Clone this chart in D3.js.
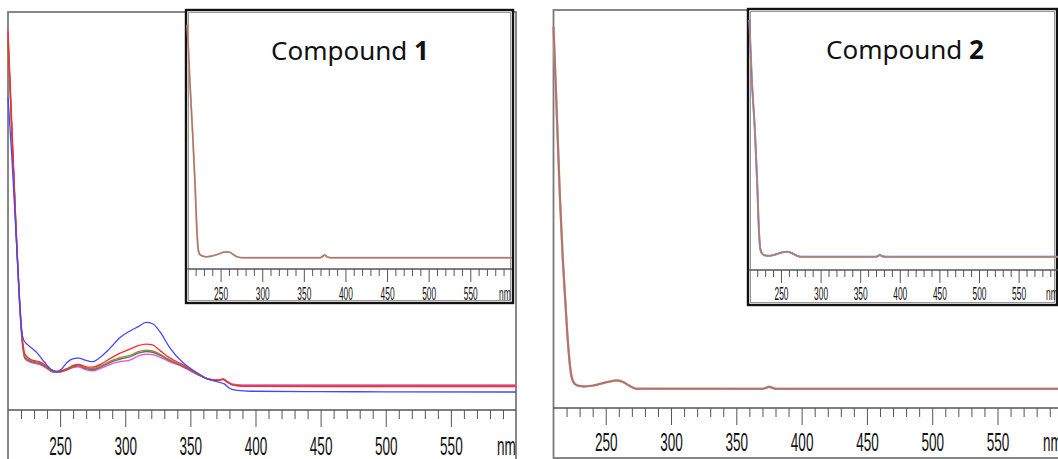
<!DOCTYPE html>
<html>
<head>
<meta charset="utf-8">
<script src="https://cdn.jsdelivr.net/npm/d3@7"></script>
<style>
  body { margin: 0; background: #fff; }
  svg { display: block; }
</style>
</head>
<body>
<div id="chart"></div>
<script>
// UV-vis spectra, [wavelength nm, absorbance]

// compound 1, main plot (zoomed)
const c1Blue = [[210,1.60],[213,1.28],[216,0.90],[219,0.52],[220.5,0.37],[222,0.32],[225,0.295],[228,0.278],[232,0.254],[238,0.202],[243.5,0.162],[247,0.154],[251,0.165],[255,0.198],[259,0.218],[264,0.224],[270,0.212],[275,0.205],[282,0.235],[288,0.274],[296,0.333],[304,0.368],[310,0.39],[316,0.412],[321,0.405],[327,0.359],[334,0.281],[344,0.202],[351,0.165],[357,0.138],[363,0.114],[368,0.104],[372,0.097],[376,0.088],[380,0.065],[386,0.053],[396,0.049],[450,0.047],[500,0.046],[600,0.045]];
const c1Red = [[210,1.95],[213,1.45],[216,0.95],[219,0.52],[221,0.33],[223,0.245],[228,0.215],[234,0.205],[240,0.18],[244,0.16],[248,0.153],[255,0.168],[260,0.185],[264,0.19],[270,0.178],[275,0.176],[282,0.195],[290,0.228],[296,0.25],[304,0.272],[310,0.29],[316,0.298],[321,0.293],[327,0.262],[334,0.225],[344,0.19],[351,0.16],[357,0.135],[363,0.115],[368,0.108],[372,0.107],[375,0.11],[378,0.098],[382,0.082],[390,0.075],[450,0.074],[600,0.074]];
const c1Olive = [[210,1.92],[213,1.42],[216,0.93],[219,0.51],[221,0.32],[223,0.232],[228,0.21],[234,0.2],[240,0.176],[244,0.156],[248,0.151],[255,0.165],[260,0.181],[264,0.186],[270,0.172],[275,0.168],[282,0.186],[290,0.212],[296,0.226],[304,0.24],[310,0.258],[316,0.266],[321,0.262],[327,0.244],[334,0.215],[344,0.185],[351,0.157],[357,0.134],[363,0.115],[368,0.108],[372,0.108],[375,0.113],[378,0.101],[382,0.085],[390,0.079],[600,0.079]];
const c1Green = [[210,1.90],[213,1.40],[216,0.92],[219,0.50],[221,0.31],[223,0.225],[228,0.205],[234,0.195],[240,0.172],[244,0.153],[248,0.15],[255,0.162],[260,0.178],[264,0.183],[270,0.168],[275,0.163],[282,0.18],[290,0.205],[296,0.218],[304,0.232],[310,0.25],[316,0.259],[321,0.255],[327,0.238],[334,0.21],[344,0.182],[351,0.155],[357,0.133],[363,0.115],[368,0.108],[372,0.108],[375,0.112],[378,0.1],[382,0.084],[390,0.077],[600,0.077]];
const c1Magenta = [[210,1.93],[213,1.42],[216,0.93],[219,0.49],[221,0.30],[223,0.22],[228,0.2],[234,0.19],[240,0.168],[244,0.15],[248,0.148],[255,0.16],[260,0.174],[264,0.178],[270,0.162],[275,0.157],[282,0.172],[290,0.195],[296,0.205],[304,0.215],[310,0.235],[316,0.245],[321,0.242],[327,0.228],[334,0.205],[344,0.178],[351,0.152],[357,0.132],[363,0.115],[368,0.109],[372,0.11],[375,0.114],[378,0.103],[382,0.088],[390,0.082],[600,0.082]];

// compound 1, inset (full range)
const c1Inset = [[210,9.5],[213,7.3],[216.4,5.2],[219,3.4],[221.7,1.23],[223,0.6],[225,0.38],[230,0.3],[234,0.29],[240,0.32],[248,0.4],[255,0.47],[260,0.47],[265,0.38],[270,0.28],[275,0.25],[370,0.25],[373,0.31],[375,0.36],[378,0.28],[382,0.25],[600,0.25]];

// compound 2, main plot and inset
const c2Main = [[210,1.963],[212,1.6],[215,1.05],[217,0.75],[219,0.52],[221,0.3],[222.5,0.18],[224,0.11],[226.6,0.075],[230,0.066],[234,0.064],[240,0.068],[246,0.078],[252,0.088],[258,0.095],[263,0.088],[268,0.068],[273,0.052],[370,0.051],[373,0.057],[375,0.062],[378,0.055],[381,0.051],[600,0.051]];
const c2Inset = [[210,9.65],[213,7.4],[217.2,5.2],[220,3.2],[222.3,1.26],[224,0.62],[226,0.45],[230,0.37],[236,0.36],[244,0.42],[252,0.5],[258,0.52],[264,0.46],[270,0.36],[275,0.32],[370,0.32],[373,0.36],[375,0.39],[378,0.34],[382,0.32],[600,0.32]];

const xDomain = [210, 600];
const majorTicks = [250, 300, 350, 400, 450, 500, 550];
const minorTicks = d3.range(220, 600, 10).filter(v => v % 50 !== 0);
const titles = ["1", "2"];

const W = 1058, H = 459;

const svg = d3.select("#chart").append("svg")
  .attr("width", W)
  .attr("height", H);

const defs = svg.append("defs");
defs.append("clipPath").attr("id", "clipL")
  .append("rect").attr("x", 0).attr("y", 0).attr("width", 519).attr("height", H);
defs.append("clipPath").attr("id", "clipR")
  .append("rect").attr("x", 521).attr("y", 0).attr("width", W - 521).attr("height", H);

function drawPanel(p) {
  const g = svg.append("g").attr("clip-path", `url(#${p.clip})`);

  const x = d3.scaleLinear().domain(xDomain).range([p.left, p.right]);
  const y = d3.scaleLinear().domain(p.yDomain).range([p.axisY, p.top]);

  // frame
  if (p.inset) {
    g.append("rect")
      .attr("x", p.box[0]).attr("y", p.box[1])
      .attr("width", p.box[2]).attr("height", p.box[3])
      .attr("fill", "#fff")
      .attr("stroke", "#111")
      .attr("stroke-width", 2.4);
    g.append("rect")
      .attr("x", p.box[0] + 2.5).attr("y", p.box[1] + 2.5)
      .attr("width", p.box[2] - 5).attr("height", p.box[3] - 5)
      .attr("fill", "none")
      .attr("stroke", "#9a9a9a")
      .attr("stroke-width", 1);
  } else {
    g.append("rect")
      .attr("x", p.box[0]).attr("y", p.box[1])
      .attr("width", p.box[2]).attr("height", p.box[3])
      .attr("fill", "#fff")
      .attr("stroke", "#7a7a7a")
      .attr("stroke-width", 1.8);
  }

  // axis line + ticks
  g.append("line")
    .attr("x1", p.left).attr("x2", p.right)
    .attr("y1", p.axisY).attr("y2", p.axisY)
    .attr("stroke", "#555")
    .attr("stroke-width", 1.6);

  const minorAxis = g.append("g")
    .attr("transform", `translate(0,${p.axisY})`)
    .call(d3.axisBottom(x).tickValues(minorTicks).tickSize(p.minorLen).tickFormat(""));
  minorAxis.select(".domain").remove();
  minorAxis.selectAll("line").attr("stroke", "#555").attr("stroke-width", 1);

  const majorAxis = g.append("g")
    .attr("transform", `translate(0,${p.axisY})`)
    .call(d3.axisBottom(x).tickValues(majorTicks).tickSize(p.majorLen).tickPadding(p.pad));
  majorAxis.select(".domain").remove();
  majorAxis.selectAll("line").attr("stroke", "#555").attr("stroke-width", 1);
  majorAxis.selectAll("text")
    .attr("font-family", "Liberation Sans, Arial, sans-serif")
    .attr("font-size", p.fs)
    .attr("fill", "#111")
    .attr("transform", `scale(${p.sx},1)`);

  g.append("g")
    .attr("transform", `translate(${p.nmX},${p.axisY + p.majorLen + p.pad})`)
    .append("text")
    .attr("dy", "0.71em")
    .attr("transform", `scale(${p.sx},1)`)
    .attr("font-family", "Liberation Sans, Arial, sans-serif")
    .attr("font-size", p.fs)
    .attr("fill", "#111")
    .text("nm");

  // spectra
  const line = d3.line()
    .x(d => x(d[0]))
    .y(d => y(d[1]))
    .curve(d3.curveMonotoneX);

  p.series.forEach(s => {
    g.append("path")
      .datum(s.data)
      .attr("d", line)
      .attr("fill", "none")
      .attr("stroke", s.color)
      .attr("stroke-width", s.width)
      .attr("stroke-linejoin", "round");
  });

  if (p.title) {
    const t = g.append("text")
      .attr("x", p.titleX).attr("y", p.titleY)
      .attr("text-anchor", "middle")
      .attr("font-family", "Noto Sans, sans-serif")
      .attr("font-size", 26)
      .attr("fill", "#111");
    t.append("tspan").text("Compound ");
    t.append("tspan").attr("font-weight", "bold").text(p.title);
  }
}

// left: compound 1
drawPanel({
  clip: "clipL", left: 8, right: 516, top: 12, axisY: 410,
  yDomain: [-0.05, 2.05], box: [8, 12, 508, 470],
  minorLen: 9, majorLen: 17, pad: 10, fs: 26, sx: 0.52, nmX: 497,
  series: [
    { data: c1Magenta, color: "#ff3cff", width: 1.3 },
    { data: c1Green, color: "#3a8a3a", width: 1.4 },
    { data: c1Olive, color: "#b07040", width: 1.2 },
    { data: c1Red, color: "#ff2a2a", width: 1.3 },
    { data: c1Blue, color: "#4646ff", width: 1.3 }
  ]
});
drawPanel({
  clip: "clipL", inset: true, left: 187.3, right: 511.9, top: 12, axisY: 269,
  yDomain: [-0.2, 10], box: [186, 10, 327, 293],
  minorLen: 7, majorLen: 13, pad: 5, fs: 18.6, sx: 0.45, nmX: 499,
  title: titles[0], titleX: 350, titleY: 60,
  series: [
    { data: c1Inset, color: "#d8c870", width: 1.9 },
    { data: c1Inset, color: "#b0707e", width: 1.5 }
  ]
});

// right: compound 2
drawPanel({
  clip: "clipR", left: 553.5, right: 1062.8, top: 10, axisY: 408,
  yDomain: [-0.05, 2.05], box: [553.5, 10, 520, 448],
  minorLen: 9, majorLen: 17, pad: 8, fs: 26, sx: 0.52, nmX: 1043,
  series: [
    { data: c2Main, color: "#d0c060", width: 2.4 },
    { data: c2Main, color: "#b0707e", width: 2.0 }
  ]
});
drawPanel({
  clip: "clipR", inset: true, left: 749.3, right: 1058.2, top: 11, axisY: 270,
  yDomain: [-0.2, 10], box: [748, 9, 309, 296],
  minorLen: 7, majorLen: 13, pad: 4, fs: 18.6, sx: 0.45, nmX: 1046,
  title: titles[1], titleX: 905, titleY: 59,
  series: [
    { data: c2Inset, color: "#6060ff", width: 2.0 },
    { data: c2Inset, color: "#c0b848", width: 1.5 },
    { data: c2Inset, color: "#b0707e", width: 1.1 }
  ]
});
</script>
</body>
</html>
